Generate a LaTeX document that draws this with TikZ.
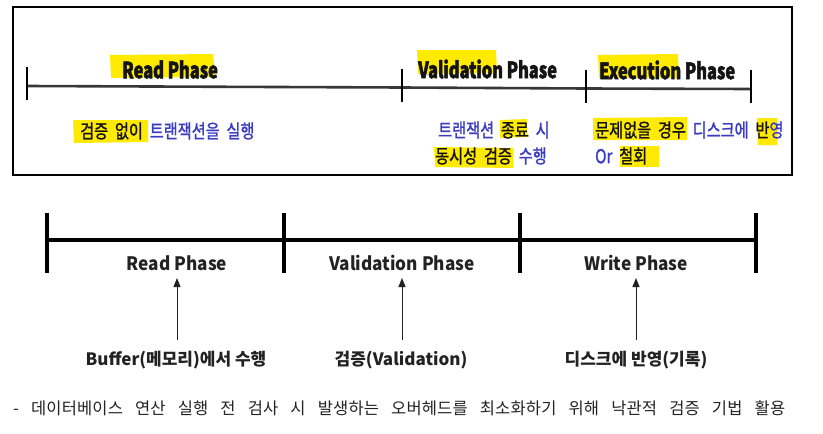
\documentclass[tikz,border=0pt]{standalone}
\usepackage{fontspec}
\usetikzlibrary{arrows.meta}
\setmainfont{Noto Sans CJK KR}
\newfontfamily\tlfont[FakeStretch=0.73,FakeBold=2]{Noto Sans CJK KR}
\newcommand\toplatin{\tlfont\bfseries\fontsize{22.5}{22.5}\selectfont}
\newfontfamily\tkfont[FakeStretch=0.8,FakeBold=1.3,WordSpace=2]{Noto Sans CJK KR}
\newcommand\topkr{\tkfont\fontsize{19}{19}\selectfont}
\newfontfamily\bfont[FakeStretch=0.93]{Noto Sans CJK KR}
\newfontfamily\sfont{Noto Sans CJK KR}
\newcommand\botlab{\bfont\bfseries\fontsize{18.5}{18.5}\selectfont}
\newcommand\botsub{\sfont\bfseries\fontsize{17}{17}\selectfont}
\newfontfamily\ffont[LetterSpace=1]{Noto Sans CJK KR}
\newcommand\footfont{\ffont\fontsize{16.5}{16.5}\selectfont}
\definecolor{hl}{RGB}{255,234,0}
\definecolor{kblue}{RGB}{60,60,195}
\definecolor{ink}{RGB}{20,20,20}
\definecolor{bink}{RGB}{34,34,34}
\definecolor{tline}{RGB}{55,55,55}
\tikzset{
  toplab/.style={inner sep=0pt,anchor=west,font=\toplatin,text=ink},
  topkor/.style={inner sep=0pt,anchor=west,font=\topkr,text=kblue},
  phaselab/.style={inner sep=0pt,anchor=center,font=\botlab,text=bink},
  sublab/.style={inner sep=0pt,anchor=base,font=\botsub,text=bink},
  hlmark/.style={fill=hl},
  tmain/.style={draw=tline,line width=2.6pt},
  ttick/.style={draw=black,line width=1.2pt},
  bmain/.style={draw=black,line width=4pt},
  btick/.style={draw=black,line width=3.5pt},
  uparrow/.style={draw=bink,line width=1pt,-{Triangle[length=9pt,width=7pt]}},
  frame/.style={draw=black,line width=1.4pt}
}
\begin{document}
\begin{tikzpicture}[x=1pt,y=-1pt]
\useasboundingbox (0,0) rectangle (823,434);
\fill[white] (0,0) rectangle (823,434);
% top frame
\draw[frame] (13,7) rectangle (792,175);
% highlights
\fill[hlmark] (110,55) -- (213,54) -- (215,77) -- (111,78) -- cycle;
\fill[hlmark] (73,120) -- (148,120) -- (148,142) -- (74,143) -- cycle;
\fill[hlmark] (417,50) -- (496,50) -- (497,73) -- (418,74) -- cycle;
\fill[hlmark] (598,55) -- (678,54) -- (679,78) -- (599,78) -- cycle;
\fill[hlmark] (500,120) -- (527,119) -- (527,137) -- (500,138) -- cycle;
\fill[hlmark] (434,147) -- (513,148) -- (513,168) -- (435,167) -- cycle;
\fill[hlmark] (593,118) -- (687,117) -- (687,140) -- (593,140) -- cycle;
\fill[hlmark] (757,118) -- (777,118) -- (777,145) -- (758,145) -- cycle;
\fill[hlmark] (620,146) -- (659,146) -- (659,167) -- (620,167) -- cycle;
% top timeline
\coordinate (t0) at (27,86);
\coordinate (t1) at (402,87.5);
\coordinate (t2) at (586,88.5);
\coordinate (t3) at (751,89);
\draw[tmain] (t0) -- (t1) -- (t2) -- (t3);
\foreach \c in {t0,t1,t2,t3}{
  \draw[ttick] ([yshift=-14pt]\c) -- ([yshift=19pt]\c);
}
% top labels
\node[toplab] (tr) at (122,69.5) {Read Phase};
\node[toplab] (tv) at (418,69) {Validation Phase};
\node[toplab] (te) at (599,70) {Execution Phase};
\node[topkor] (kr1) at (80,131) {\textcolor{ink}{검증 없이} 트랜잭션을 실행};
\node[topkor] (kv1) at (438,130) {트랜잭션 \textcolor{ink}{종료} 시};
\node[topkor] (kv2) at (435,156) {\textcolor{ink}{동시성 검증} 수행};
\node[topkor] (ke1) at (595,130) {\textcolor{ink}{문제없을 경우} 디스크에 \textcolor{ink}{반}영};
\node[topkor] (ke2) at (595,156) {Or \textcolor{ink}{철회}};
% bottom timeline
\coordinate (b0) at (47,240);
\coordinate (b1) at (284,240);
\coordinate (b2) at (520,240);
\coordinate (b3) at (756,240);
\draw[bmain] (b0) -- (b3);
\foreach \c in {b0,b1,b2,b3}{
  \draw[btick] ([yshift=27pt]\c) -- ([yshift=-33pt]\c);
}
\node[phaselab] (pr) at (177,263) {Read Phase};
\node[phaselab] (pv) at (402,263) {Validation Phase};
\node[phaselab] (pw) at (636,263) {Write Phase};
\node[sublab] (sr) at (176,365) {Buffer(메모리)에서 수행};
\node[sublab] (sv) at (401,365) {검증(Validation)};
\node[sublab] (sw) at (636,365) {디스크에 반영(기록)};
\coordinate (ar0) at (177,340); \coordinate (ar1) at (177,278);
\coordinate (av0) at (402,340); \coordinate (av1) at (402,278);
\coordinate (aw0) at (636,340); \coordinate (aw1) at (636,278);
\draw[uparrow] (ar0) -- (ar1);
\draw[uparrow] (av0) -- (av1);
\draw[uparrow] (aw0) -- (aw1);
% footer
\node[inner sep=0pt,anchor=base west,font=\footfont,text=bink] (foot) at (13,414)
  {\makebox[772pt][s]{- 데이터베이스 연산 실행 전 검사 시 발생하는 오버헤드를 최소화하기 위해 낙관적 검증 기법 활용}};
\end{tikzpicture}
\end{document}
